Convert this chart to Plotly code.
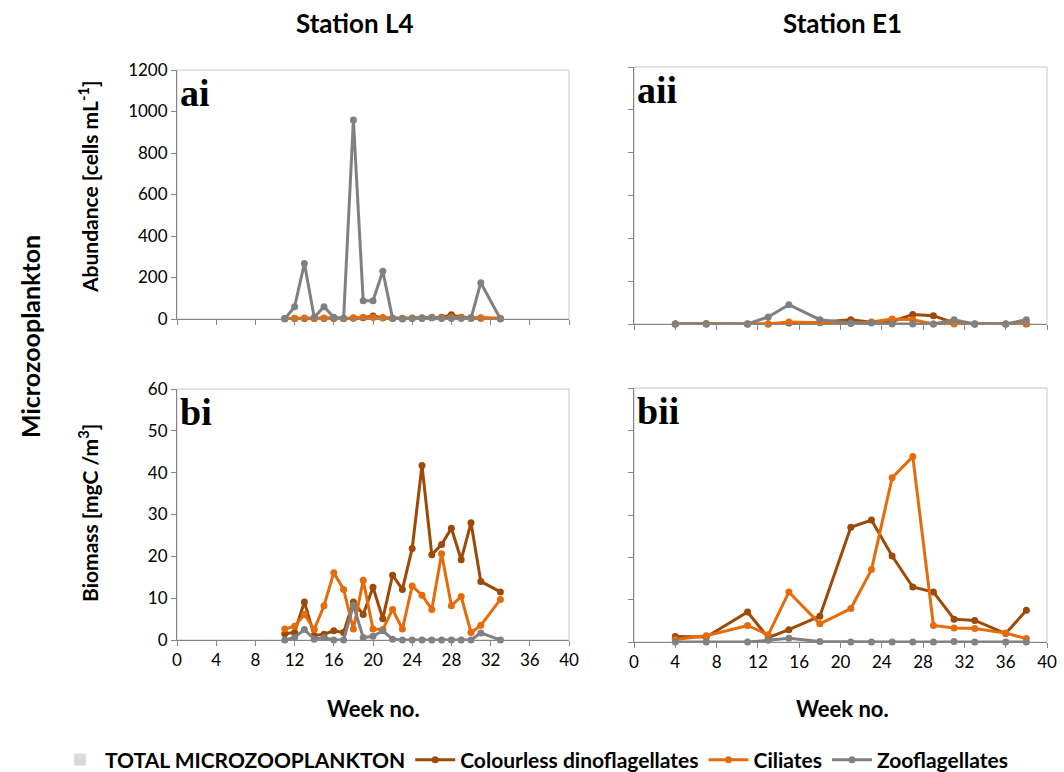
import plotly.graph_objects as go

# ---- Station L4 (weekly sampling) ----
weeks_L4 = [11, 12, 13, 14, 15, 16, 17, 18, 19, 20, 21, 22, 23, 24, 25, 26, 27, 28, 29, 30, 31, 33]

abund_L4_dino = [2, 2, 3, 2, 3, 3, 2, 4, 6, 14, 6, 4, 3, 4, 5, 6, 8, 20, 8, 6, 4, 3]
abund_L4_cil = [3, 4, 5, 3, 5, 6, 4, 6, 8, 7, 5, 4, 4, 5, 6, 7, 6, 8, 7, 5, 6, 4]
abund_L4_zoo = [0, 59, 268, 8, 59, 8, 3, 959, 88, 88, 230, 3, 0, 3, 3, 8, 3, 3, 3, 3, 175, 0]

biom_L4_dino = [1.5, 1.8, 9.1, 1.1, 1.4, 2.2, 1.8, 9.1, 6.1, 12.6, 5.1, 15.5, 12.1, 21.9, 41.7,
                20.4, 22.8, 26.7, 19.2, 28.0, 14.0, 11.5]
biom_L4_cil = [2.6, 3.3, 6.1, 2.5, 8.2, 16.1, 12.1, 2.6, 14.3, 2.6, 2.5, 7.3, 2.6, 12.9, 10.7,
               7.3, 20.6, 8.2, 10.4, 1.8, 3.5, 9.7]
biom_L4_zoo = [0.0, 0.6, 2.5, 0.2, 0.6, 0.0, 0.0, 8.3, 0.6, 0.9, 2.2, 0.2, 0.0, 0.0, 0.0,
               0.0, 0.0, 0.0, 0.0, 0.0, 1.7, 0.0]

# ---- Station E1 ----
weeks_E1 = [4, 7, 11, 13, 15, 18, 21, 23, 25, 27, 29, 31, 33, 36, 38]

abund_E1_dino = [0, 0, 0, 0, 5, 8, 20, 8, 12, 44, 39, 5, 0, 0, 0]
abund_E1_cil = [0, 2, 0, 0, 9, 6, 2, 9, 23, 20, 0, 0, 0, 0, 2]
abund_E1_zoo = [0, 0, 0, 33, 90, 20, 5, 5, 0, 0, 0, 20, 0, 0, 20]

biom_E1_dino = [1.3, 1.2, 7.1, 1.0, 2.9, 6.1, 27.1, 28.8, 20.3, 13.0, 11.8, 5.4, 5.1, 2.0, 7.5]
biom_E1_cil = [0.6, 1.5, 3.9, 1.7, 11.8, 4.3, 7.9, 17.1, 38.8, 43.8, 3.9, 3.3, 3.2, 2.1, 0.8]
biom_E1_zoo = [0.0, 0.0, 0.0, 0.4, 0.9, 0.1, 0.0, 0.0, 0.0, 0.0, 0.0, 0.1, 0.0, 0.0, 0.0]

# ---- labels ----
series_names = ["Colourless dinoflagellates", "Ciliates", "Zooflagellates"]
total_name = "TOTAL MICROZOOPLANKTON"
station_titles = ["Station L4", "Station E1"]
panel_tags = ["ai", "aii", "bi", "bii"]
week_ticks = [0, 4, 8, 12, 16, 20, 24, 28, 32, 36, 40]
abund_ticks = [0, 200, 400, 600, 800, 1000, 1200]
biom_ticks = [0, 10, 20, 30, 40, 50, 60]

COLORS = ["#9C4A06", "#E46C0A", "#808080"]
TOTAL_COLOR = "#D9D9D9"
AXIS_GREY = "#868686"
FRAME_GREY = "#C8C8C8"
FONT = "Lato"
SERIF = "Liberation Serif"

W, H = 1064, 772


def px_x(x):
    return x / W


def px_y(y):
    return 1 - y / H


# panel plot areas in pixels: (left, right, top, bottom)
areas = {
    "ai": (177, 569, 70, 319),
    "aii": (634, 1047, 67, 324),
    "bi": (177, 569, 389, 640),
    "bii": (634, 1047, 388, 642),
}

fig = go.Figure()

panels = [
    ("ai", "x", "y", weeks_L4, [abund_L4_dino, abund_L4_cil, abund_L4_zoo]),
    ("aii", "x2", "y2", weeks_E1, [abund_E1_dino, abund_E1_cil, abund_E1_zoo]),
    ("bi", "x3", "y3", weeks_L4, [biom_L4_dino, biom_L4_cil, biom_L4_zoo]),
    ("bii", "x4", "y4", weeks_E1, [biom_E1_dino, biom_E1_cil, biom_E1_zoo]),
]

# legend-only entry for the total (bar-style swatch)
fig.add_trace(go.Bar(x=[None], y=[None], name=total_name, marker_color=TOTAL_COLOR,
                     xaxis="x", yaxis="y", showlegend=True, legendgroup="total"))

for tag, xa, ya, weeks, values in panels:
    for i, (name, vals) in enumerate(zip(series_names, values)):
        fig.add_trace(go.Scatter(
            x=weeks, y=vals, mode="lines+markers", name=name,
            line=dict(color=COLORS[i], width=3),
            marker=dict(color=COLORS[i], size=7),
            xaxis=xa, yaxis=ya, legendgroup=name,
            showlegend=(tag == "ai"), cliponaxis=False,
        ))

tick_font = dict(family=FONT, size=17, color="#000000")
common_x = dict(range=[0, 40], tickvals=week_ticks, ticks="outside", ticklen=5,
                tickcolor=AXIS_GREY, showline=True, linecolor=AXIS_GREY, linewidth=1,
                showgrid=False, zeroline=False, tickfont=tick_font, fixedrange=True,
                automargin=False)
common_y = dict(ticks="outside", ticklen=5, tickcolor=AXIS_GREY, showline=True,
                linecolor=AXIS_GREY, linewidth=1, showgrid=False, zeroline=False,
                tickfont=tick_font, fixedrange=True, automargin=False)

layout_axes = {}
axis_ids = ["", "2", "3", "4"]
for (tag, xa, ya, weeks, values), aid in zip(panels, axis_ids):
    l, r, t, b = areas[tag]
    bottom_row = tag.startswith("b")
    left_col = tag in ("ai", "bi")
    yticks = biom_ticks if bottom_row else abund_ticks
    layout_axes["xaxis" + aid] = dict(
        common_x, domain=[px_x(l), px_x(r)], anchor="y" + aid,
        showticklabels=bottom_row,
    )
    layout_axes["yaxis" + aid] = dict(
        common_y, domain=[px_y(b), px_y(t)], anchor="x" + aid,
        range=[0, yticks[-1]], tickvals=yticks, showticklabels=left_col,
    )
fig.update_layout(**layout_axes)


def label(text, x, y, size, angle=0, family=FONT):
    return dict(text=text, xref="paper", yref="paper", x=px_x(x), y=px_y(y),
                xanchor="center", yanchor="middle", textangle=angle, showarrow=False,
                font=dict(family=family, size=size, color="#000", weight="bold"))


shapes = []
annotations = []
for tag, (l, r, t, b) in areas.items():
    shapes.append(dict(type="rect", xref="paper", yref="paper",
                       x0=px_x(l), x1=px_x(r), y0=px_y(b), y1=px_y(t),
                       line=dict(color=FRAME_GREY, width=1), layer="below"))
    annotations.append(dict(text=tag, xref="paper", yref="paper",
                            x=px_x(l + 1), y=px_y(t), xanchor="left", yanchor="top",
                            showarrow=False,
                            font=dict(family=SERIF, size=38, color="#000", weight="bold")))

annotations += [
    label(station_titles[0], 355, 23, 26),
    label(station_titles[1], 842, 23, 26),
    label("Abundance [cells mL<sup>-1</sup>]", 88, 187, 21, -90),
    label("Biomass [mgC /m<sup>3</sup>]", 88, 513, 21, -90),
    label("Microzooplankton", 30, 337, 25, -90),
    label("Week no.", 373, 708, 22),
    label("Week no.", 842, 708, 22),
]

fig.update_layout(
    width=W, height=H,
    margin=dict(l=0, r=0, t=0, b=0, autoexpand=False),
    paper_bgcolor="white", plot_bgcolor="white",
    shapes=shapes, annotations=annotations,
    showlegend=True,
    legend=dict(orientation="h", x=px_x(55), y=px_y(760), xanchor="left", yanchor="middle",
                font=dict(family=FONT, size=21, color="#000", weight="bold"), itemwidth=40,
                traceorder="normal", bgcolor="rgba(0,0,0,0)"),
    font=dict(family=FONT),
)

fig.write_html("out.html")
